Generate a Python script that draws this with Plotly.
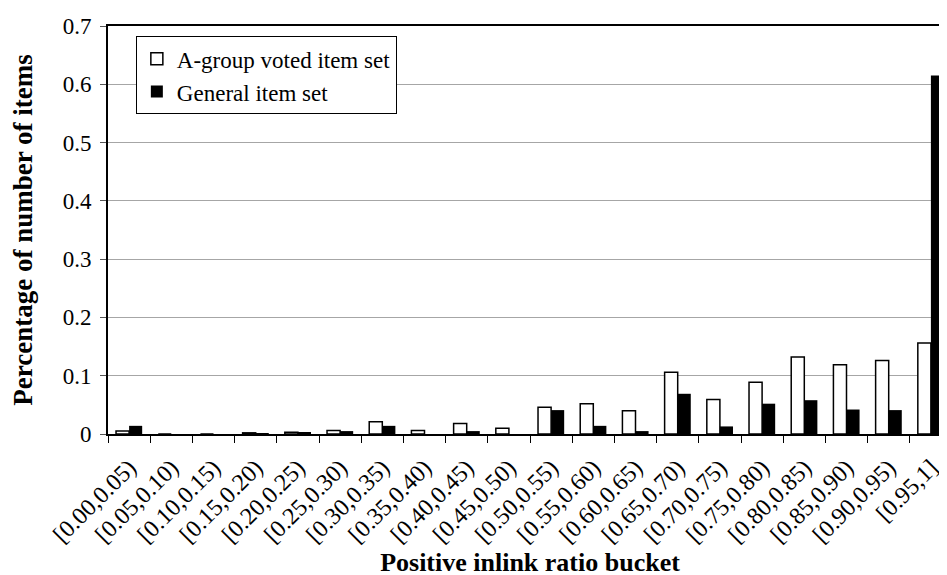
import plotly.graph_objects as go

buckets = [
    "[0.00,0.05)", "[0.05,0.10)", "[0.10,0.15)", "[0.15,0.20)", "[0.20,0.25)",
    "[0.25,0.30)", "[0.30,0.35)", "[0.35,0.40)", "[0.40,0.45)", "[0.45,0.50)",
    "[0.50,0.55)", "[0.55,0.60)", "[0.60,0.65)", "[0.65,0.70)", "[0.70,0.75)",
    "[0.75,0.80)", "[0.80,0.85)", "[0.85,0.90)", "[0.90,0.95)", "[0.95,1]",
]
a_group = [0.005, 0.0, 0.0, 0.002, 0.003, 0.006, 0.021, 0.006, 0.018, 0.010,
           0.046, 0.052, 0.040, 0.106, 0.059, 0.089, 0.132, 0.119, 0.126, 0.156]
general = [0.014, 0.0, 0.0, 0.001, 0.002, 0.005, 0.014, 0.0, 0.005, 0.0,
           0.041, 0.014, 0.005, 0.069, 0.013, 0.052, 0.058, 0.042, 0.041, 0.615]
y_ticks = [0, 0.1, 0.2, 0.3, 0.4, 0.5, 0.6, 0.7]
y_labels = ["0", "0.1", "0.2", "0.3", "0.4", "0.5", "0.6", "0.7"]

serif = "Liberation Serif"

fig = go.Figure()

fig.add_trace(go.Bar(
    x=buckets,
    y=a_group,
    name="A-group voted item set",
    marker=dict(color="white", line=dict(color="black", width=1.5)),
))
fig.add_trace(go.Bar(
    x=buckets,
    y=general,
    name="General item set",
    marker=dict(color="black", line=dict(color="black", width=0)),
))

fig.update_layout(
    width=947,
    height=575,
    margin=dict(l=100, r=3, t=18, b=149),
    plot_bgcolor="white",
    paper_bgcolor="white",
    barmode="group",
    bargap=0.38,
    bargroupgap=0,
    font=dict(family=serif, color="black", size=23),
    legend=dict(
        x=0.033, y=0.975, xanchor="left", yanchor="top",
        bgcolor="white", bordercolor="black", borderwidth=1,
        font=dict(family=serif, size=23, color="black"),
        itemwidth=30,
        tracegroupgap=0,
    ),
    xaxis=dict(
        title=dict(text="<b>Positive inlink ratio bucket</b>",
                   font=dict(family=serif, size=26, color="black"), standoff=0),
        tickangle=-45,
        tickfont=dict(family=serif, size=24, color="black"),
        ticklabelstandoff=8,
        tickson="boundaries",
        ticks="outside",
        ticklen=7,
        tickcolor="black",
        showline=True,
        linecolor="black",
        linewidth=2,
        mirror=True,
        showgrid=False,
    ),
    yaxis=dict(
        title=dict(text="<b>Percentage of number of items</b>",
                   font=dict(family=serif, size=27, color="black"), standoff=22),
        range=[0, 0.7],
        tickvals=y_ticks,
        ticktext=y_labels,
        tickfont=dict(family=serif, size=23, color="black"),
        ticklabelstandoff=4,
        ticks="outside",
        ticklen=6,
        tickcolor="#555555",
        showline=True,
        linecolor="black",
        linewidth=2,
        showgrid=True,
        gridcolor="#a6a6a6",
        gridwidth=1,
        zeroline=False,
    ),
)

fig.write_html("out.html")
